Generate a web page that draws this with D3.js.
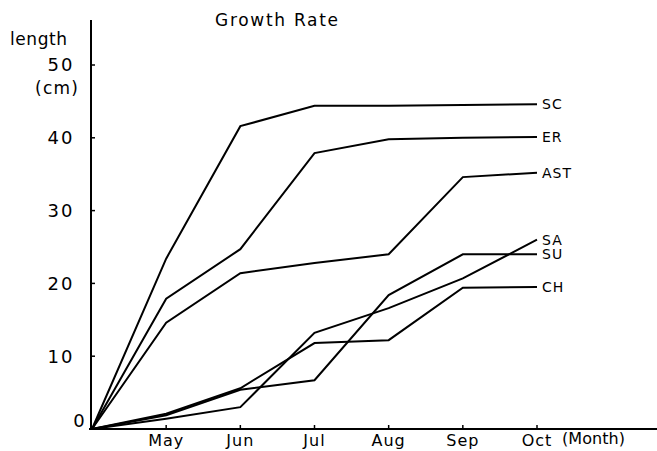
<!DOCTYPE html>
<html>
<head>
<meta charset="utf-8">
<script src="https://cdn.jsdelivr.net/npm/d3@7"></script>
<style>
  html, body { margin: 0; padding: 0; background: #fff; }
  svg { display: block; font-family: "DejaVu Sans", sans-serif; }
</style>
</head>
<body>
<svg id="chart" width="657" height="451"></svg>
<script>
// Month index 0 is the starting point (planting), 1..6 are May..Oct
const monthIndex = [0, 1, 2, 3, 4, 5, 6];
const monthLabels = ["May", "Jun", "Jul", "Aug", "Sep", "Oct"];
const yTicks = [0, 10, 20, 30, 40, 50];

// Length (cm) per species at each month
const SC  = [0, 23.4, 41.6, 44.4, 44.4, 44.5, 44.6];
const ER  = [0, 17.9, 24.7, 37.9, 39.8, 40.0, 40.1];
const AST = [0, 14.6, 21.4, 22.8, 24.0, 34.6, 35.2];
const SA  = [0, 1.4, 3.0, 13.2, 16.6, 20.7, 26.0];
const SU  = [0, 1.9, 5.4, 6.7, 18.4, 24.0, 24.0];
const CH  = [0, 2.1, 5.6, 11.8, 12.2, 19.4, 19.5];

const seriesNames = ["SC", "ER", "AST", "SA", "SU", "CH"];
const seriesValues = [SC, ER, AST, SA, SU, CH];

const svg = d3.select("#chart");

const x = d3.scaleLinear().domain([0, 6]).range([92, 537]);
const y = d3.scaleLinear().domain([0, 50]).range([429, 65]);

// Title
svg.append("text")
  .attr("x", 215).attr("y", 26)
  .attr("font-size", 17)
  .attr("textLength", 123).attr("lengthAdjust", "spacing")
  .text("Growth Rate");

// Axis titles
svg.append("text")
  .attr("x", 10).attr("y", 45)
  .attr("font-size", 17)
  .attr("textLength", 57).attr("lengthAdjust", "spacing")
  .text("length");
svg.append("text")
  .attr("x", 35).attr("y", 94)
  .attr("font-size", 17)
  .attr("textLength", 43).attr("lengthAdjust", "spacing")
  .text("(cm)");

// Y axis
svg.append("line")
  .attr("x1", 91).attr("x2", 91)
  .attr("y1", 20).attr("y2", 430)
  .attr("stroke", "#000").attr("stroke-width", 2);

svg.selectAll(".ytick").data(yTicks.filter(d => d > 0)).join("line")
  .attr("class", "ytick")
  .attr("x1", 91).attr("x2", 95)
  .attr("y1", d => y(d)).attr("y2", d => y(d))
  .attr("stroke", "#000").attr("stroke-width", 1.5);

svg.selectAll(".ylab").data(yTicks).join("text")
  .attr("class", "ylab")
  .attr("x", d => d === 0 ? 80 : 61)
  .attr("y", d => d === 0 ? y(d) - 8 : y(d))
  .attr("dy", "0.36em")
  .attr("text-anchor", "middle")
  .attr("font-size", 18)
  .attr("letter-spacing", 2)
  .text(d => d);

// X axis
svg.append("line")
  .attr("x1", 89).attr("x2", 657)
  .attr("y1", 429).attr("y2", 429)
  .attr("stroke", "#000").attr("stroke-width", 2);

svg.selectAll(".xtick").data(monthIndex.slice(1)).join("line")
  .attr("class", "xtick")
  .attr("x1", d => x(d)).attr("x2", d => x(d))
  .attr("y1", 429).attr("y2", 425)
  .attr("stroke", "#000").attr("stroke-width", 1.5);

svg.selectAll(".xlab").data(monthLabels).join("text")
  .attr("class", "xlab")
  .attr("x", (d, i) => x(i + 1))
  .attr("y", 446)
  .attr("text-anchor", "middle")
  .attr("font-size", 16)
  .attr("letter-spacing", 1)
  .text(d => d);

svg.append("text")
  .attr("x", 562).attr("y", 444)
  .attr("font-size", 16)
  .attr("textLength", 63).attr("lengthAdjust", "spacing")
  .text("(Month)");

// Growth lines
const line = d3.line()
  .x((d, i) => x(monthIndex[i]))
  .y(d => y(d));

svg.selectAll(".series").data(seriesValues).join("path")
  .attr("class", "series")
  .attr("d", d => line(d))
  .attr("fill", "none")
  .attr("stroke", "#000")
  .attr("stroke-width", 2)
  .attr("stroke-linejoin", "miter");

// Species labels at line ends
svg.selectAll(".slab").data(seriesNames).join("text")
  .attr("class", "slab")
  .attr("x", x(6) + 5)
  .attr("y", (d, i) => y(seriesValues[i][6]))
  .attr("dy", "0.36em")
  .attr("font-size", 14)
  .attr("letter-spacing", 1)
  .text(d => d);
</script>
</body>
</html>
